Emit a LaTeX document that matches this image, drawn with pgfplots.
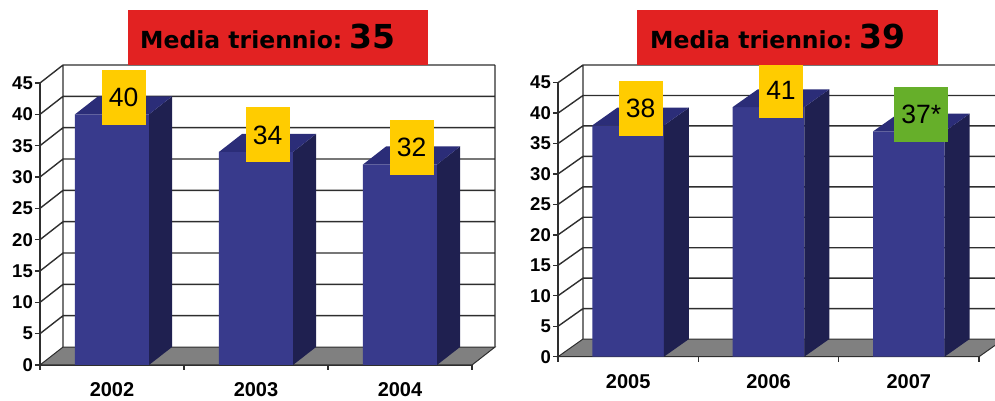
\documentclass[border=0pt]{standalone}
\usepackage{fontspec}
\setmainfont{Liberation Sans}
\newfontfamily\dejavu{DejaVu Sans}
\usepackage{pgfplots}
\pgfplotsset{compat=1.18}
\definecolor{barfront}{HTML}{383A8C}
\definecolor{barside}{HTML}{1F2050}
\definecolor{bartop}{HTML}{2B2D78}
\definecolor{floorgray}{HTML}{808080}
\definecolor{gridc}{HTML}{2E2E2E}
\definecolor{boxyellow}{HTML}{FFCC00}
\definecolor{boxgreen}{HTML}{66AF2A}
\definecolor{titlered}{HTML}{E22222}
\newcommand{\tickfont}{\fontsize{18.5}{20}\selectfont\bfseries}
\newcommand{\yearfont}{\fontsize{20}{22}\selectfont\bfseries}
\newcommand{\boxfont}{\fontsize{26.5}{28}\selectfont}
\newcommand{\titlefont}{\dejavu\bfseries\fontsize{23.5}{26}\selectfont}
\newcommand{\titlenum}{\dejavu\bfseries\fontsize{33}{34}\selectfont}
\pgfplotsset{
  panel/.style={
    scale only axis, anchor=south west,
    xmin=0, xmax=3, ymin=0, ymax=45, clip=false,
    axis lines=left,
    axis line style={-, draw=gridc, line width=1.3pt},
    tick align=outside, major tick length=5pt,
    tick style={gridc, line width=1.3pt},
    ytick={0,5,...,45},
    xtick={0,1,2,3}, xticklabels={,,,},
    yticklabel style={font=\tickfont, inner xsep=2pt},
    /pgf/number format/assume math mode=true,
    extra x tick style={major tick length=0pt,
      xticklabel style={font=\yearfont, yshift=-14pt}},
  },
  gridl/.style={draw=gridc, line width=1.4pt, mark=none, unbounded coords=jump},
  valbox/.style={mark=none, draw=none, nodes near coords, point meta=explicit symbolic,
    every node near coord/.style={fill=#1, anchor=center, yshift=8pt,
      minimum width=44pt, minimum height=55pt, inner sep=0pt, font=\boxfont, text=black}},
}
\begin{document}
\begin{tikzpicture}
\useasboundingbox (0,0) rectangle (995pt,401pt);
% ---------------- Left panel ----------------
\begin{axis}[panel, at={(40pt,36pt)}, width=432pt, height=282pt,
  extra x ticks={0.5,1.5,2.5}, extra x tick labels={2002,2003,2004}]
% back wall grid
\addplot[gridl] coordinates {
 (0.16,7.87)(3.16,7.87) (nan,nan) (0.16,12.87)(3.16,12.87) (nan,nan)
 (0.16,17.87)(3.16,17.87) (nan,nan) (0.16,22.87)(3.16,22.87) (nan,nan)
 (0.16,27.87)(3.16,27.87) (nan,nan) (0.16,32.87)(3.16,32.87) (nan,nan)
 (0.16,37.87)(3.16,37.87) (nan,nan) (0.16,42.87)(3.16,42.87) (nan,nan)
 (0.16,47.87)(3.16,47.87) (nan,nan)
 (0.16,2.87)(0.16,47.87) (nan,nan) (3.16,2.87)(3.16,47.87) (nan,nan)
 (0,5)(0.16,7.87) (nan,nan) (0,10)(0.16,12.87) (nan,nan) (0,15)(0.16,17.87) (nan,nan)
 (0,20)(0.16,22.87) (nan,nan) (0,25)(0.16,27.87) (nan,nan) (0,30)(0.16,32.87) (nan,nan)
 (0,35)(0.16,37.87) (nan,nan) (0,40)(0.16,42.87) (nan,nan) (0,45)(0.16,47.87)
};
% floor
\addplot[fill=floorgray, draw=gridc, line width=1pt] coordinates {(0,0)(3,0)(3.16,2.87)(0.16,2.87)} --cycle;
% bars: front faces
\addplot[ybar, bar width=0.514, fill=barfront, draw=none] coordinates {(0.5,40)(1.5,34)(2.5,32)};
% side faces
\addplot[fill=barside, draw=none] coordinates {(0.757,0)(0.917,2.87)(0.917,42.87)(0.757,40)} --cycle;
\addplot[fill=barside, draw=none] coordinates {(1.757,0)(1.917,2.87)(1.917,36.87)(1.757,34)} --cycle;
\addplot[fill=barside, draw=none] coordinates {(2.757,0)(2.917,2.87)(2.917,34.87)(2.757,32)} --cycle;
% top faces
\addplot[fill=bartop, draw=none] coordinates {(0.243,40)(0.403,42.87)(0.917,42.87)(0.757,40)} --cycle;
\addplot[fill=bartop, draw=none] coordinates {(1.243,34)(1.403,36.87)(1.917,36.87)(1.757,34)} --cycle;
\addplot[fill=bartop, draw=none] coordinates {(2.243,32)(2.403,34.87)(2.917,34.87)(2.757,32)} --cycle;
% value boxes
\addplot[valbox=boxyellow] coordinates {(0.58,41.435)[40] (1.58,35.435)[34] (2.58,33.435)[32]};
\end{axis}
% ---------------- Right panel ----------------
\begin{axis}[panel, at={(558pt,44.3pt)}, width=421pt, height=274pt,
  extra x ticks={0.5,1.5,2.5}, extra x tick labels={2005,2006,2007}]
\addplot[gridl] coordinates {
 (0.178,7.9)(3.178,7.9) (nan,nan) (0.178,12.9)(3.178,12.9) (nan,nan)
 (0.178,17.9)(3.178,17.9) (nan,nan) (0.178,22.9)(3.178,22.9) (nan,nan)
 (0.178,27.9)(3.178,27.9) (nan,nan) (0.178,32.9)(3.178,32.9) (nan,nan)
 (0.178,37.9)(3.178,37.9) (nan,nan) (0.178,42.9)(3.178,42.9) (nan,nan)
 (0.178,47.9)(3.178,47.9) (nan,nan)
 (0.178,2.9)(0.178,47.9) (nan,nan) (3.178,2.9)(3.178,47.9) (nan,nan)
 (0,5)(0.178,7.9) (nan,nan) (0,10)(0.178,12.9) (nan,nan) (0,15)(0.178,17.9) (nan,nan)
 (0,20)(0.178,22.9) (nan,nan) (0,25)(0.178,27.9) (nan,nan) (0,30)(0.178,32.9) (nan,nan)
 (0,35)(0.178,37.9) (nan,nan) (0,40)(0.178,42.9) (nan,nan) (0,45)(0.178,47.9)
};
\addplot[fill=floorgray, draw=gridc, line width=1pt] coordinates {(0,0)(3,0)(3.178,2.9)(0.178,2.9)} --cycle;
\addplot[ybar, bar width=0.51, fill=barfront, draw=none] coordinates {(0.5,38)(1.5,41)(2.5,37)};
\addplot[fill=barside, draw=none] coordinates {(0.755,0)(0.933,2.9)(0.933,40.9)(0.755,38)} --cycle;
\addplot[fill=barside, draw=none] coordinates {(1.755,0)(1.933,2.9)(1.933,43.9)(1.755,41)} --cycle;
\addplot[fill=barside, draw=none] coordinates {(2.755,0)(2.933,2.9)(2.933,39.9)(2.755,37)} --cycle;
\addplot[fill=bartop, draw=none] coordinates {(0.245,38)(0.423,40.9)(0.933,40.9)(0.755,38)} --cycle;
\addplot[fill=bartop, draw=none] coordinates {(1.245,41)(1.423,43.9)(1.933,43.9)(1.755,41)} --cycle;
\addplot[fill=bartop, draw=none] coordinates {(2.245,37)(2.423,39.9)(2.933,39.9)(2.755,37)} --cycle;
\addplot[valbox=boxyellow] coordinates {(0.589,39.45)[38] (1.589,42.45)[41]};
\addplot[valbox=boxgreen, every node near coord/.append style={minimum width=54pt}] coordinates {(2.589,38.45)[37*]};
\end{axis}
% ---------------- Titles ----------------
\node[fill=titlered, minimum width=300pt, minimum height=55pt, inner sep=0pt, anchor=north west] at (128pt,391pt) {};
\node[anchor=base west, inner sep=0pt] at (140pt,352pt) {\titlefont Media triennio:\hspace{7pt}\titlenum 35};
\node[fill=titlered, minimum width=301pt, minimum height=55pt, inner sep=0pt, anchor=north west] at (637pt,391pt) {};
\node[anchor=base west, inner sep=0pt] at (650pt,352pt) {\titlefont Media triennio:\hspace{7pt}\titlenum 39};
\end{tikzpicture}
\end{document}
